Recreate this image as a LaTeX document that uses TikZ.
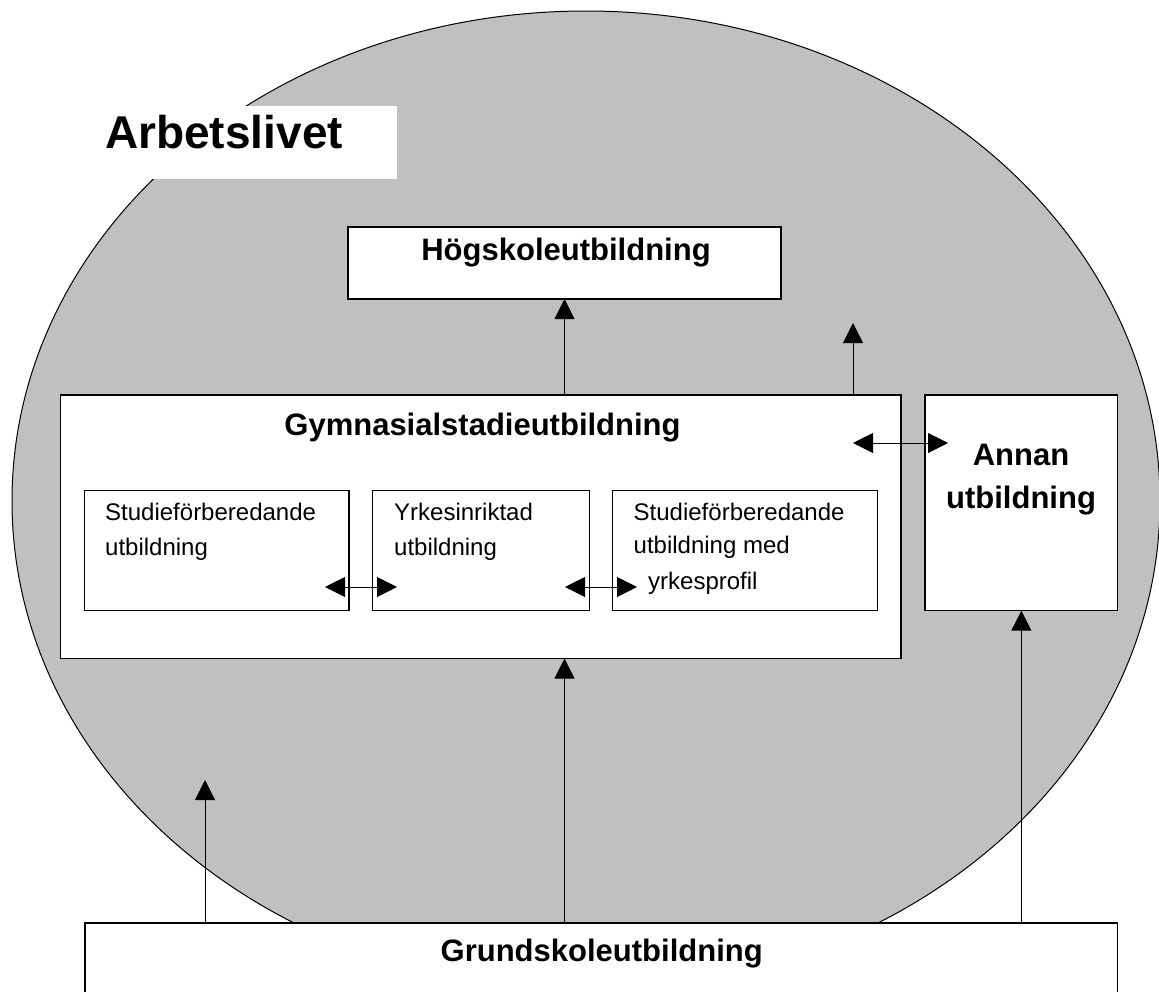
\documentclass[tikz,border=0pt]{standalone}
\usepackage{fontspec}
\setmainfont{Liberation Sans}
\usetikzlibrary{arrows.meta}
\definecolor{ellgray}{HTML}{C0C0C0}
\begin{document}
\begin{tikzpicture}[x=1pt,y=-1pt,
  box/.style={draw=black,line width=1.2pt,fill=white,inner sep=0pt,outer sep=0pt,anchor=north west},
  arr/.style={line width=1pt,-{Triangle[length=20pt,width=20pt]}},
  darr/.style={line width=1pt,{Triangle[length=20pt,width=20pt]}-{Triangle[length=20pt,width=20pt]}},
  big/.style={font=\fontsize{31}{37}\selectfont\bfseries,inner sep=0pt,anchor=base},
  small/.style={font=\fontsize{24}{29}\selectfont,inner sep=0pt,anchor=base west},
]
\useasboundingbox (0,0) rectangle (1159,991);
\clip (0,0) rectangle (1159,991);
\fill[white] (0,0) rectangle (1159,991);
% Arbetslivet ellipse
\filldraw[fill=ellgray, draw=black, line width=1pt] (586,501) ellipse [x radius=574, y radius=490];
\node[fill=white,inner sep=0pt,outer sep=0pt,anchor=north west,minimum width=297pt,minimum height=73pt] (arbbox) at (100,106) {};
\node[font=\fontsize{46}{55}\selectfont\bfseries,inner sep=0pt,anchor=base west] (arbt) at (105,148.3) {Arbetslivet};
% boxes
\node[box,minimum width=433pt,minimum height=72pt] (hog) at (348,227) {};
\node[box,minimum width=840.5pt,minimum height=263.5pt] (gym) at (60.5,395) {};
\node[box,minimum width=264.4pt,minimum height=120pt] (b1) at (84.6,490.7) {};
\node[box,minimum width=216.5pt,minimum height=120pt] (b2) at (372.8,490.7) {};
\node[box,minimum width=265pt,minimum height=120pt] (b3) at (612.6,490.7) {};
\node[box,minimum width=192.7pt,minimum height=215.7pt] (annan) at (925,395) {};
\node[box,minimum width=1032.3pt,minimum height=90pt] (grund) at (85,923) {};
% texts
\node[big] (hogt) at (566,260.7) {Högskoleutbildning};
\node[big] (gymt) at (482.5,435) {Gymnasialstadieutbildning};
\node[big] (ann1) at (1021,465) {Annan};
\node[big] (ann2) at (1021,508) {utbildning};
\node[big] (grt) at (601.7,961.7) {Grundskoleutbildning};
\node[small] (b1a) at (105,520) {Studieförberedande};
\node[small] (b1b) at (105,555) {utbildning};
\node[small] (b2a) at (394,520) {Yrkesinriktad};
\node[small] (b2b) at (394,555) {utbildning};
\node[small] (b3a) at (633.5,520) {Studieförberedande};
\node[small] (b3b) at (633.5,553) {utbildning med};
\node[small] (b3c) at (648,589) {yrkesprofil};
% free ends
\coordinate (up) at (853,323);
\coordinate (dl) at (853,443);
\coordinate (dr) at (948,443);
\coordinate (l1) at (325,587);
\coordinate (r1) at (397,587);
\coordinate (l2) at (565,587);
\coordinate (r2) at (637,587);
\coordinate (g1) at (205,780);
% connectors
\draw[arr] (gym.north -| hog.south) -- (hog.south);
\draw[arr] (gym.north -| up) -- (up);
\draw[darr] (dl) -- (dr);
\draw[darr] (l1) -- (r1);
\draw[darr] (l2) -- (r2);
\draw[arr] (grund.north -| g1) -- (g1);
\draw[arr] (grund.north -| hog.south) -- (gym.south -| hog.south);
\draw[arr] (grund.north -| annan.south) -- (annan.south);
\end{tikzpicture}
\end{document}
